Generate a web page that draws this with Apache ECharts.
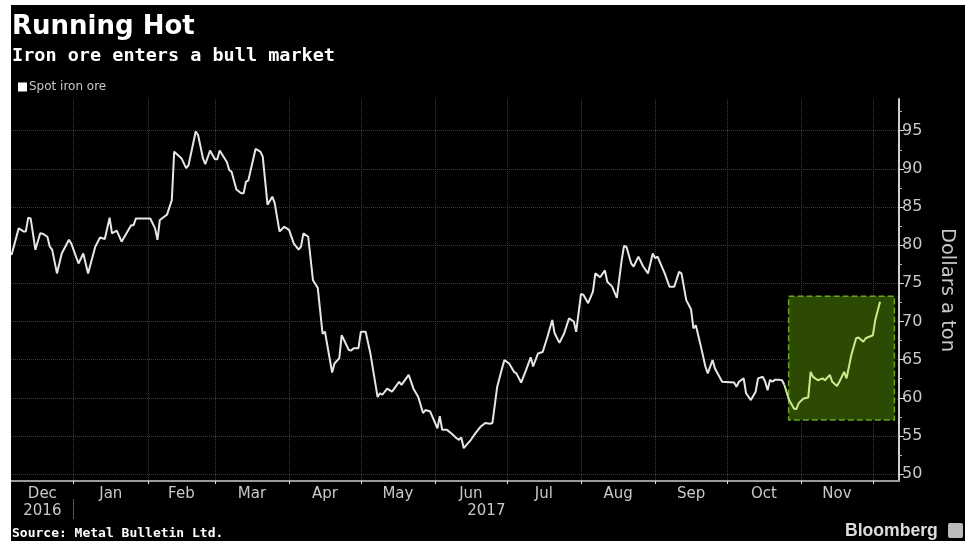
<!DOCTYPE html>
<html><head><meta charset="utf-8">
<script src="https://cdn.jsdelivr.net/npm/echarts@6/dist/echarts.min.js"></script>
<style>
html,body{margin:0;padding:0;background:#fff;width:969px;height:544px;overflow:hidden;}
#c{position:absolute;left:11px;top:5px;width:954px;height:536px;}
</style></head><body><div id="c"></div>
<script>
const dates = ['2016-12-06','2016-12-09','2016-12-11','2016-12-12','2016-12-13','2016-12-14','2016-12-16','2016-12-18','2016-12-19','2016-12-21','2016-12-22','2016-12-23','2016-12-25','2016-12-27','2016-12-30','2016-12-31',
'2017-01-03','2017-01-05','2017-01-07','2017-01-10','2017-01-12','2017-01-14','2017-01-16','2017-01-17','2017-01-19','2017-01-21','2017-01-25','2017-01-26','2017-01-27',
'2017-02-02','2017-02-04','2017-02-05','2017-02-06','2017-02-09','2017-02-11','2017-02-12','2017-02-15','2017-02-17','2017-02-18','2017-02-21','2017-02-22','2017-02-24','2017-02-25','2017-02-27',
'2017-03-01','2017-03-02','2017-03-03','2017-03-06','2017-03-07','2017-03-08','2017-03-10','2017-03-12','2017-03-13','2017-03-14','2017-03-15','2017-03-18','2017-03-20','2017-03-21','2017-03-23','2017-03-25','2017-03-26','2017-03-28','2017-03-30',
'2017-04-01','2017-04-03','2017-04-05','2017-04-06','2017-04-07','2017-04-09','2017-04-11','2017-04-13','2017-04-15','2017-04-16','2017-04-19','2017-04-20','2017-04-22','2017-04-23','2017-04-26','2017-04-27','2017-04-28','2017-04-30',
'2017-05-01','2017-05-03','2017-05-05','2017-05-08','2017-05-09','2017-05-10','2017-05-12','2017-05-14','2017-05-15','2017-05-17','2017-05-18','2017-05-21','2017-05-23','2017-05-25','2017-05-27','2017-05-28','2017-05-30',
'2017-06-02','2017-06-03','2017-06-04','2017-06-06','2017-06-08','2017-06-10','2017-06-11','2017-06-12','2017-06-13','2017-06-16','2017-06-18','2017-06-20','2017-06-22','2017-06-24','2017-06-25','2017-06-27','2017-06-29','2017-06-30',
'2017-07-02','2017-07-04','2017-07-05','2017-07-07','2017-07-09','2017-07-11','2017-07-12','2017-07-14','2017-07-16','2017-07-18','2017-07-20','2017-07-21','2017-07-23','2017-07-25','2017-07-27','2017-07-29','2017-07-30',
'2017-08-01','2017-08-02','2017-08-04','2017-08-06','2017-08-07','2017-08-09','2017-08-11','2017-08-12','2017-08-14','2017-08-16','2017-08-18','2017-08-19','2017-08-20','2017-08-22','2017-08-23','2017-08-25','2017-08-27','2017-08-29','2017-08-31',
'2017-09-01','2017-09-02','2017-09-05','2017-09-07','2017-09-09','2017-09-11','2017-09-12','2017-09-14','2017-09-16','2017-09-17','2017-09-18','2017-09-20','2017-09-22','2017-09-23','2017-09-25','2017-09-26','2017-09-29',
'2017-10-04','2017-10-05','2017-10-06','2017-10-08','2017-10-09','2017-10-11','2017-10-13','2017-10-14','2017-10-16','2017-10-17','2017-10-18','2017-10-19','2017-10-20','2017-10-21','2017-10-23','2017-10-24','2017-10-25','2017-10-27','2017-10-29','2017-10-30','2017-10-31',
'2017-11-02','2017-11-04','2017-11-05','2017-11-06','2017-11-08','2017-11-10','2017-11-11','2017-11-13','2017-11-14','2017-11-16','2017-11-17','2017-11-19','2017-11-20','2017-11-22','2017-11-24','2017-11-25','2017-11-27','2017-11-28',
'2017-12-01','2017-12-02','2017-12-04'];
const values = [78.7,82.2,81.8,81.8,83.6,83.5,79.4,81.55,81.5,81.1,79.8,79.4,76.3,78.9,80.7,80.2,
77.6,78.9,76.3,79.8,81.0,80.8,83.6,81.55,81.9,80.45,82.6,82.6,83.5,
83.5,82.2,80.7,83.3,84.0,85.9,92.25,91.4,90.1,90.5,94.9,94.4,91.4,90.6,92.4,
91.25,91.25,92.4,90.9,89.85,89.6,87.3,86.8,86.8,88.3,88.5,92.6,92.25,91.6,85.3,86.35,85.5,81.8,82.4,
82.0,80.2,79.4,79.8,81.55,81.1,75.4,74.4,68.4,68.65,63.3,64.5,65.2,68.2,66.25,66.2,66.5,66.5,
68.65,68.65,65.8,60.1,60.6,60.4,61.2,60.8,61.2,62.1,61.7,63.0,61.2,60.1,58.0,58.4,58.2,
56.0,57.6,55.8,55.8,55.3,54.7,54.5,54.8,53.4,54.5,55.4,56.2,56.7,56.6,56.7,61.45,63.85,64.95,
64.5,63.4,63.2,62.0,63.6,65.3,64.1,65.8,66.0,68.0,70.2,68.45,67.2,68.45,70.4,70.0,68.65,
73.6,73.5,72.4,73.9,76.3,75.8,76.7,75.2,74.6,73.1,78.0,79.9,79.8,77.6,77.2,78.5,77.2,76.3,78.9,
78.3,78.5,76.3,74.55,74.55,76.5,76.3,72.8,71.6,69.1,69.5,66.9,64.1,63.2,64.95,63.85,62.1,
62.0,61.45,62.1,62.55,60.6,59.7,60.8,62.55,62.75,62.1,61.0,62.35,62.1,62.35,62.35,62.3,61.7,59.7,58.6,58.5,59.3,
59.9,60.05,63.4,62.75,62.3,62.55,62.3,63.0,62.1,61.55,62.1,63.4,62.55,65.6,67.8,67.9,67.35,67.8,
68.2,70.2,72.6];
const monthLabels = ['Dec','Jan','Feb','Mar','Apr','May','Jun','Jul','Aug','Sep','Oct','Nov'];
const monthStarts = ['2016-12-01','2017-01-01','2017-02-01','2017-03-01','2017-04-01','2017-05-01','2017-06-01','2017-07-01','2017-08-01','2017-09-01','2017-10-01','2017-11-01','2017-12-01'];
const yearLabels = ['2016','2017'];
const yearStarts = ['2016-01-01','2017-01-01','2018-01-01'];
const yTicks = [50,55,60,65,70,75,80,85,90,95];
const yMinorTicks = [52.5,57.5,62.5,67.5,72.5,77.5,82.5,87.5,92.5,97.5];
const xMin = '2016-12-05 19:00', xMax = '2017-12-11 22:00';
const yMin = 49.1, yMax = 99.15;
const boxStart = '2017-10-26 19:00', boxEnd = '2017-12-10 00:00', boxTop = 73.3, boxBottom = 57.1;

function ts(s){const p=s.split(' ');const d=p[0].split('-').map(Number);let h=0,mi=0;if(p[1]){const t=p[1].split(':').map(Number);h=t[0];mi=t[1];}return Date.UTC(d[0],d[1]-1,d[2],h,mi);}
const X0 = ts(xMin), X1 = ts(xMax), B0 = ts(boxStart);
const allData = dates.map((d,i)=>[ts(d), values[i]]);
const firstIn = allData.findIndex(p=>p[0]>=B0);
const oldData = allData.slice(0, firstIn);
const newData = allData.slice(firstIn - 1);
const monthTicks = monthStarts.map(ts).filter(v=>v>=X0&&v<=X1);
const monthMid = {};
const monthMids = monthLabels.map((m,i)=>{const a=Math.max(ts(monthStarts[i]),X0),b=Math.min(ts(monthStarts[i+1]),X1);const v=(a+b)/2;monthMid[v]=i;return v;});
const yearMid = {};
const yearMids = yearLabels.map((y,i)=>{const a=Math.max(ts(yearStarts[i]),X0),b=Math.min(ts(yearStarts[i+1]),X1);const v=(a+b)/2;yearMid[v]=y;return v;});
const yearTicks = yearStarts.map(ts).filter(v=>v>X0&&v<X1);

const chart = echarts.init(document.getElementById('c'));
const grey = '#c8c8c8';
const gridLine = {show:true, lineStyle:{color:'#3a3a3a', type:'dotted', width:1}};
chart.setOption({
  backgroundColor:'#000',
  animation:false,
  title:{text:'Running Hot', subtext:'Iron ore enters a bull market', left:1, top:9, padding:0, itemGap:7,
    textStyle:{color:'#fff', fontSize:26, fontWeight:'bold', fontFamily:'DejaVu Sans'},
    subtextStyle:{color:'#fff', fontSize:18.5, fontWeight:'bold', fontFamily:'DejaVu Sans Mono'}},
  legend:{left:7, top:76, icon:'rect', itemWidth:9, itemHeight:9, itemGap:10, padding:0,
    data:[{name:'Spot iron ore', itemStyle:{color:'#fff'}}],
    textStyle:{color:grey, fontSize:12, fontFamily:'DejaVu Sans', padding:[0,0,0,-3]}},
  grid:{left:0, right:62, top:94, bottom:60, containLabel:false},
  xAxis:[{
    type:'value', min:X0, max:X1, position:'bottom',
    axisLine:{show:true, lineStyle:{color:'#9a9a9a', width:2}},
    axisTick:{show:true, customValues:monthTicks, length:3, lineStyle:{color:'#ddd'}},
    splitLine:gridLine,
    axisLabel:{customValues:monthMids, formatter:v=>monthLabels[monthMid[v]], color:grey, fontSize:15, fontFamily:'DejaVu Sans', margin:6}
  },{
    type:'value', min:X0, max:X1, position:'bottom', offset:18,
    axisLine:{show:false},
    axisTick:{show:true, customValues:yearTicks, length:20, lineStyle:{color:'#555'}},
    splitLine:{show:false},
    axisLabel:{customValues:yearMids, formatter:v=>yearMid[v], color:grey, fontSize:15, fontFamily:'DejaVu Sans', margin:5}
  }],
  yAxis:[{
    type:'value', position:'right', min:yMin, max:yMax,
    name:'Dollars a ton', nameLocation:'middle', nameRotate:-90, nameGap:38,
    nameTextStyle:{color:grey, fontSize:19.5, fontFamily:'DejaVu Sans'},
    axisLine:{show:true, lineStyle:{color:'#d0d0d0', width:2}},
    axisTick:{show:true, customValues:yTicks, length:5, lineStyle:{color:'#ddd'}},
    splitLine:gridLine,
    axisLabel:{customValues:yTicks, color:grey, fontSize:16, fontFamily:'DejaVu Sans', margin:3}
  },{
    type:'value', position:'right', min:yMin, max:yMax,
    axisLine:{show:false},
    axisTick:{show:true, customValues:yMinorTicks, length:3, lineStyle:{color:'#bbb'}},
    splitLine:{show:false},
    axisLabel:{show:false}
  }],
  series:[{
    name:'Spot iron ore', type:'line', data:oldData, showSymbol:false, symbol:'none',
    color:'#fff', lineStyle:{width:2, color:'#e6e6e6'}, z:3,
    markArea:{silent:true, z:1,
      itemStyle:{color:'#2d4a05', borderColor:'#69a51c', borderWidth:1.5, borderType:'dashed'},
      data:[[{xAxis:B0, yAxis:boxTop},{xAxis:ts(boxEnd), yAxis:boxBottom}]]}
  },{
    name:'Spot iron ore (recent)', type:'line', data:newData, showSymbol:false, symbol:'none',
    lineStyle:{width:2, color:'#c8ec8e'}, z:3
  }],
  graphic:[
    {type:'text', left:1, top:522, style:{text:'Source: Metal Bulletin Ltd.', fill:'#fff', font:'bold 13px "DejaVu Sans Mono"'}},
    {type:'text', left:834, top:517, style:{text:'Bloomberg', fill:'#ddd', font:'bold 17.6px "Liberation Sans"'}},
    {type:'rect', left:937, top:518, shape:{width:15, height:15, r:2}, style:{fill:'#bbb'}}
  ]
});
</script></body></html>
